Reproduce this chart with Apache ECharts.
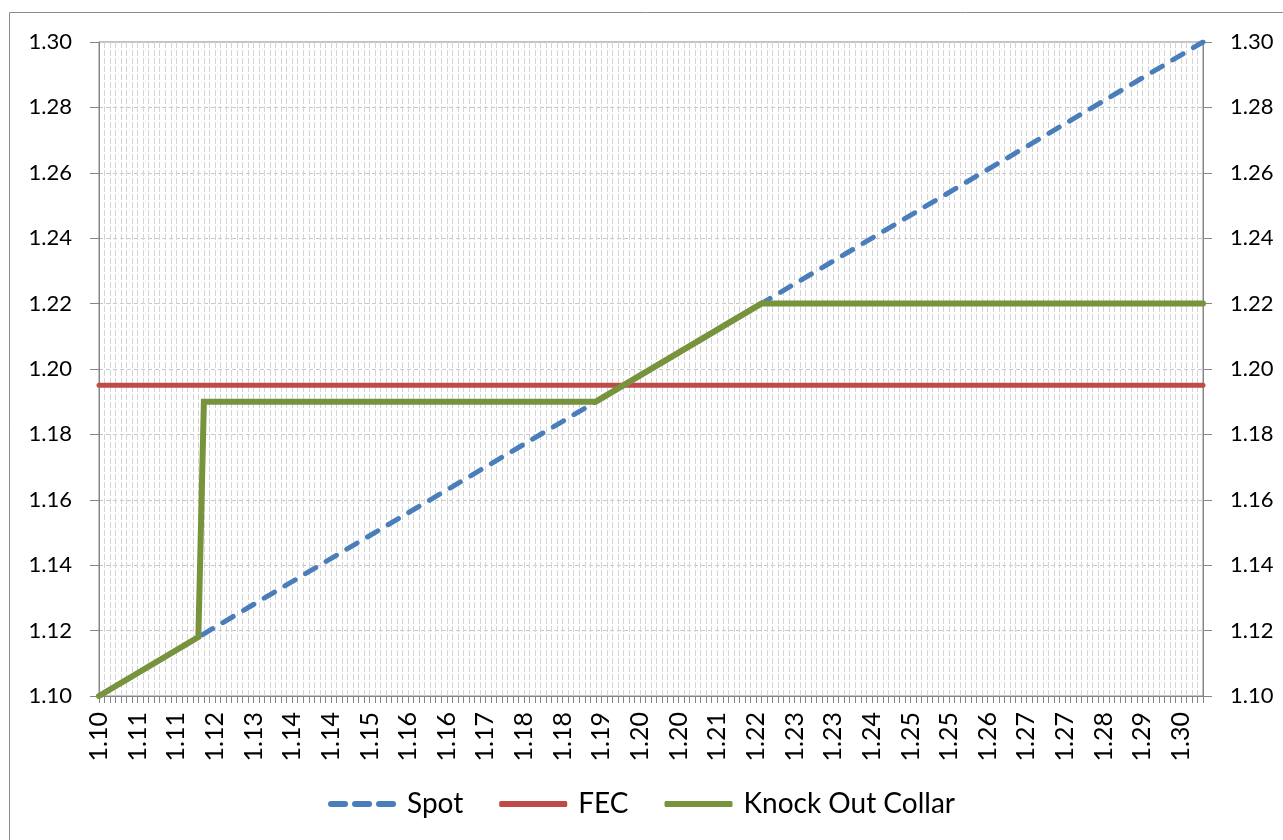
<!DOCTYPE html>
<html>
<head>
<meta charset="utf-8">
<title>Spot / FEC / Knock Out Collar</title>
<script src="https://cdn.jsdelivr.net/npm/echarts@6/dist/echarts.min.js"></script>
<style>
    html, body { margin: 0; padding: 0; background: #fff; }
    #chart { width: 1283px; height: 840px; }
</style>
</head>
<body>
<div id="chart"></div>
<script>
    // breakpoints of each line (x = spot rate, y = effective rate)
    var spot = [[1.10, 1.10], [1.30, 1.30]];
    var fec = [[1.10, 1.195], [1.30, 1.195]];
    var koc = [[1.10, 1.10], [1.118, 1.118], [1.119, 1.19], [1.19, 1.19], [1.22, 1.22], [1.30, 1.22]];

    // x axis labels (every 7th category in the original, rounded to 2 dp)
    var xTickValues = [1.100, 1.107, 1.114, 1.121, 1.128, 1.135, 1.142, 1.149, 1.156, 1.163,
        1.170, 1.177, 1.184, 1.191, 1.198, 1.205, 1.212, 1.219, 1.226, 1.233,
        1.240, 1.247, 1.254, 1.261, 1.268, 1.275, 1.282, 1.289, 1.296];
    var xTickLabels = ['1.10', '1.11', '1.11', '1.12', '1.13', '1.14', '1.14', '1.15', '1.16', '1.16',
        '1.17', '1.18', '1.18', '1.19', '1.20', '1.20', '1.21', '1.22', '1.23', '1.23',
        '1.24', '1.25', '1.25', '1.26', '1.27', '1.27', '1.28', '1.29', '1.30'];

    var font = 'Lato';
    var axisGray = '#868686';
    var blue = '#4a7ebb', red = '#be4b48', green = '#77933c';

    function xLabel(v) {
        for (var i = 0; i < xTickValues.length; i++) {
            if (Math.abs(xTickValues[i] - v) < 1e-6) return xTickLabels[i];
        }
        return '';
    }

    function yAxis(pos) {
        return {
            type: 'value',
            position: pos,
            min: 1.10,
            max: 1.30,
            interval: 0.02,
            axisLine: { show: true, lineStyle: { color: axisGray, width: 1 } },
            axisTick: { show: true, length: 9, lineStyle: { color: axisGray } },
            axisLabel: {
                color: '#000', fontFamily: font, fontSize: 22, margin: 27,
                formatter: function (v) { return v.toFixed(2); }
            },
            splitLine: {
                show: pos === 'left',
                lineStyle: { color: '#c9c9c9', type: [4, 3], width: 1 }
            }
        };
    }

    var myChart = echarts.init(document.getElementById('chart'));
    var option = {
        backgroundColor: '#fff',
        animation: false,
        graphic: [{
            type: 'rect',
            shape: { x: 9.5, y: 12.5, width: 1400, height: 1000 },
            style: { fill: 'none', stroke: '#8c8c8c', lineWidth: 1 },
            silent: true
        }],
        grid: {
            left: 99, top: 42, right: 80, bottom: 144,
            show: true, borderColor: axisGray, borderWidth: 1,
            backgroundColor: 'transparent'
        },
        legend: {
            bottom: 17,
            left: 'center',
            itemWidth: 68,
            itemHeight: 6,
            itemGap: 36,
            textStyle: { fontFamily: font, fontSize: 28, color: '#000', padding: [0, 0, 0, 6] },
            data: [
                { name: 'Spot', icon: 'path://M3,0h14a3,3 0 0 1 0,6h-14a3,3 0 0 1 0,-6z M27,0h14a3,3 0 0 1 0,6h-14a3,3 0 0 1 0,-6z M51,0h14a3,3 0 0 1 0,6h-14a3,3 0 0 1 0,-6z' },
                { name: 'FEC', icon: 'roundRect' },
                { name: 'Knock Out Collar', icon: 'roundRect' }
            ]
        },
        xAxis: {
            type: 'value',
            min: 1.10,
            max: 1.30,
            interval: 0.001,
            axisLine: { show: true, lineStyle: { color: axisGray, width: 1 } },
            axisTick: { show: true, length: 7, lineStyle: { color: axisGray } },
            axisLabel: {
                customValues: xTickValues,
                rotate: 90,
                margin: 16,
                color: '#000', fontFamily: font, fontSize: 25,
                formatter: xLabel
            },
            splitLine: {
                show: true,
                lineStyle: { color: '#d4d4d4', type: [6, 2], width: 1 }
            }
        },
        yAxis: [yAxis('left'), yAxis('right')],
        series: [
            {
                name: 'Spot', type: 'line', showSymbol: false, symbol: 'none',
                data: spot,
                lineStyle: { color: blue, width: 5, type: [12, 12], cap: 'round' },
                itemStyle: { color: blue }
            },
            {
                name: 'FEC', type: 'line', showSymbol: false, symbol: 'none',
                data: fec,
                lineStyle: { color: red, width: 5, cap: 'round' },
                itemStyle: { color: red }
            },
            {
                name: 'Knock Out Collar', type: 'line', showSymbol: false, symbol: 'none',
                data: koc,
                lineStyle: { color: green, width: 6, join: 'miter', cap: 'round' },
                itemStyle: { color: green }
            }
        ]
    };
    myChart.setOption(option);
</script>
</body>
</html>
